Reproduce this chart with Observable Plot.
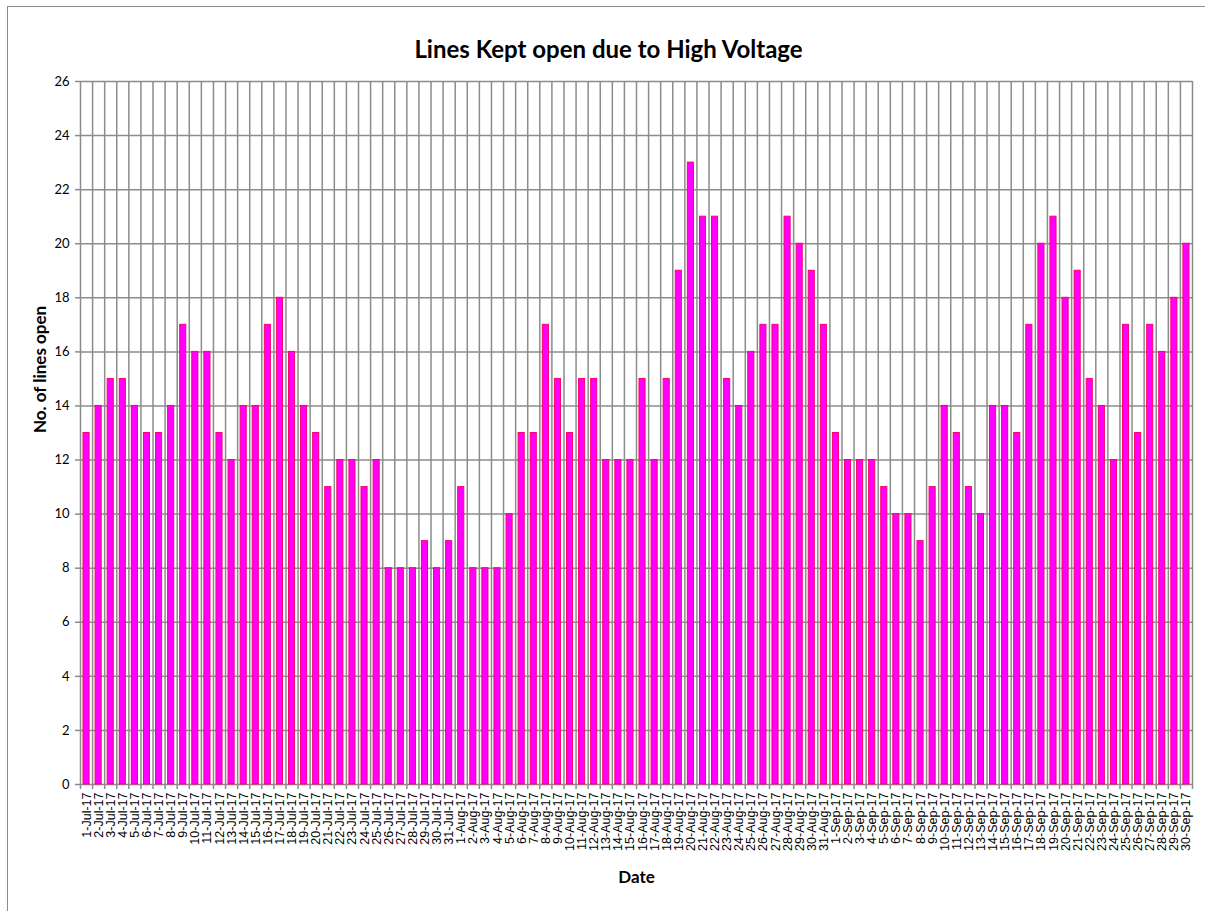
<!DOCTYPE html>
<html><head><meta charset="utf-8">
<script src="https://cdn.jsdelivr.net/npm/d3@7"></script>
<script src="https://cdn.jsdelivr.net/npm/@observablehq/plot@0.6"></script>
<style>
body{margin:0;background:#fff;}
#wrap{position:relative;width:1205px;height:911px;overflow:hidden;background:#fff;}
#border{position:absolute;left:7px;top:6px;width:1300px;height:1000px;border:1.5px solid #8c8c8c;box-sizing:border-box;}
#chart{position:absolute;left:0;top:0;}
</style></head><body>
<div id="wrap"><div id="border"></div><div id="chart"></div></div>
<script>
const dates = [
  "1-Jul-17","2-Jul-17","3-Jul-17","4-Jul-17","5-Jul-17","6-Jul-17","7-Jul-17","8-Jul-17","9-Jul-17","10-Jul-17",
  "11-Jul-17","12-Jul-17","13-Jul-17","14-Jul-17","15-Jul-17","16-Jul-17","17-Jul-17","18-Jul-17","19-Jul-17","20-Jul-17",
  "21-Jul-17","22-Jul-17","23-Jul-17","24-Jul-17","25-Jul-17","26-Jul-17","27-Jul-17","28-Jul-17","29-Jul-17","30-Jul-17","31-Jul-17",
  "1-Aug-17","2-Aug-17","3-Aug-17","4-Aug-17","5-Aug-17","6-Aug-17","7-Aug-17","8-Aug-17","9-Aug-17","10-Aug-17",
  "11-Aug-17","12-Aug-17","13-Aug-17","14-Aug-17","15-Aug-17","16-Aug-17","17-Aug-17","18-Aug-17","19-Aug-17","20-Aug-17",
  "21-Aug-17","22-Aug-17","23-Aug-17","24-Aug-17","25-Aug-17","26-Aug-17","27-Aug-17","28-Aug-17","29-Aug-17","30-Aug-17","31-Aug-17",
  "1-Sep-17","2-Sep-17","3-Sep-17","4-Sep-17","5-Sep-17","6-Sep-17","7-Sep-17","8-Sep-17","9-Sep-17","10-Sep-17",
  "11-Sep-17","12-Sep-17","13-Sep-17","14-Sep-17","15-Sep-17","16-Sep-17","17-Sep-17","18-Sep-17","19-Sep-17","20-Sep-17",
  "21-Sep-17","22-Sep-17","23-Sep-17","24-Sep-17","25-Sep-17","26-Sep-17","27-Sep-17","28-Sep-17","29-Sep-17","30-Sep-17"
];
const julyLines = [13,14,15,15,14,13,13,14,17,16,16,13,12,14,14,17,18,16,14,13,11,12,12,11,12,8,8,8,9,8,9];
const augustLines = [11,8,8,8,10,13,13,17,15,13,15,15,12,12,12,15,12,15,19,23,21,21,15,14,16,17,17,21,20,19,17];
const septemberLines = [13,12,12,12,11,10,10,9,11,14,13,11,10,14,14,13,17,20,21,18,19,15,14,12,17,13,17,16,18,20];
const yTicks = [0,2,4,6,8,10,12,14,16,18,20,22,24,26];
const titleText = "Lines Kept open due to High Voltage";
const yLabel = "No. of lines open";
const xLabel = "Date";

const lines = [...julyLines, ...augustLines, ...septemberLines];
const data = dates.map((d, i) => ({i, date: d, value: lines[i]}));
const n = dates.length;
const grid = "#8c8c8c";

const plot = Plot.plot({
  width: 1205, height: 911,
  marginLeft: 80, marginRight: 13, marginTop: 81, marginBottom: 127,
  style: {background: "transparent", fontFamily: "Lato, sans-serif", color: "#000"},
  x: {domain: [0, n], axis: null},
  y: {domain: [0, 26], axis: null},
  marks: [
    Plot.ruleY(yTicks, {stroke: grid, strokeWidth: 1.5}),
    Plot.ruleX(d3.range(0, n + 1), {stroke: grid, strokeWidth: 1.5}),
    Plot.rectY(data, {x1: "i", x2: d => d.i + 1, y: "value", insetLeft: 3, insetRight: 3,
      fill: "#ff00ff", stroke: "#ff0066", strokeWidth: 1}),
    Plot.axisY({ticks: yTicks, tickSize: 5, tickPadding: 6, stroke: grid, strokeWidth: 1.5,
      fontSize: 13, fontFamily: "Lato, sans-serif", label: null}),
    Plot.axisX({ticks: d3.range(0, n + 1), tickSize: 5, stroke: grid, strokeWidth: 1.5,
      tickFormat: () => "", label: null}),
    Plot.axisX({ticks: d3.range(0, n).map(i => i + 0.5), tickSize: 0, tickPadding: 8, tickRotate: -90,
      tickFormat: v => dates[Math.floor(v)], fontSize: 12.5, fontFamily: "Liberation Sans, Arial, sans-serif", label: null}),
    Plot.text([titleText], {frameAnchor: "top", dx: -28, dy: -41, fontSize: 24, fontWeight: "bold",
      fontFamily: "Lato, sans-serif", fill: "#000"}),
    Plot.text([yLabel], {frameAnchor: "left", dx: -40, rotate: -90, fontSize: 17, fontWeight: "bold",
      fontFamily: "Lato, sans-serif", fill: "#000"}),
    Plot.text([xLabel], {frameAnchor: "bottom", dy: 98, fontSize: 17, fontWeight: "bold",
      fontFamily: "Lato, sans-serif", fill: "#000"})
  ]
});
document.getElementById("chart").appendChild(plot);
</script>
</body></html>
